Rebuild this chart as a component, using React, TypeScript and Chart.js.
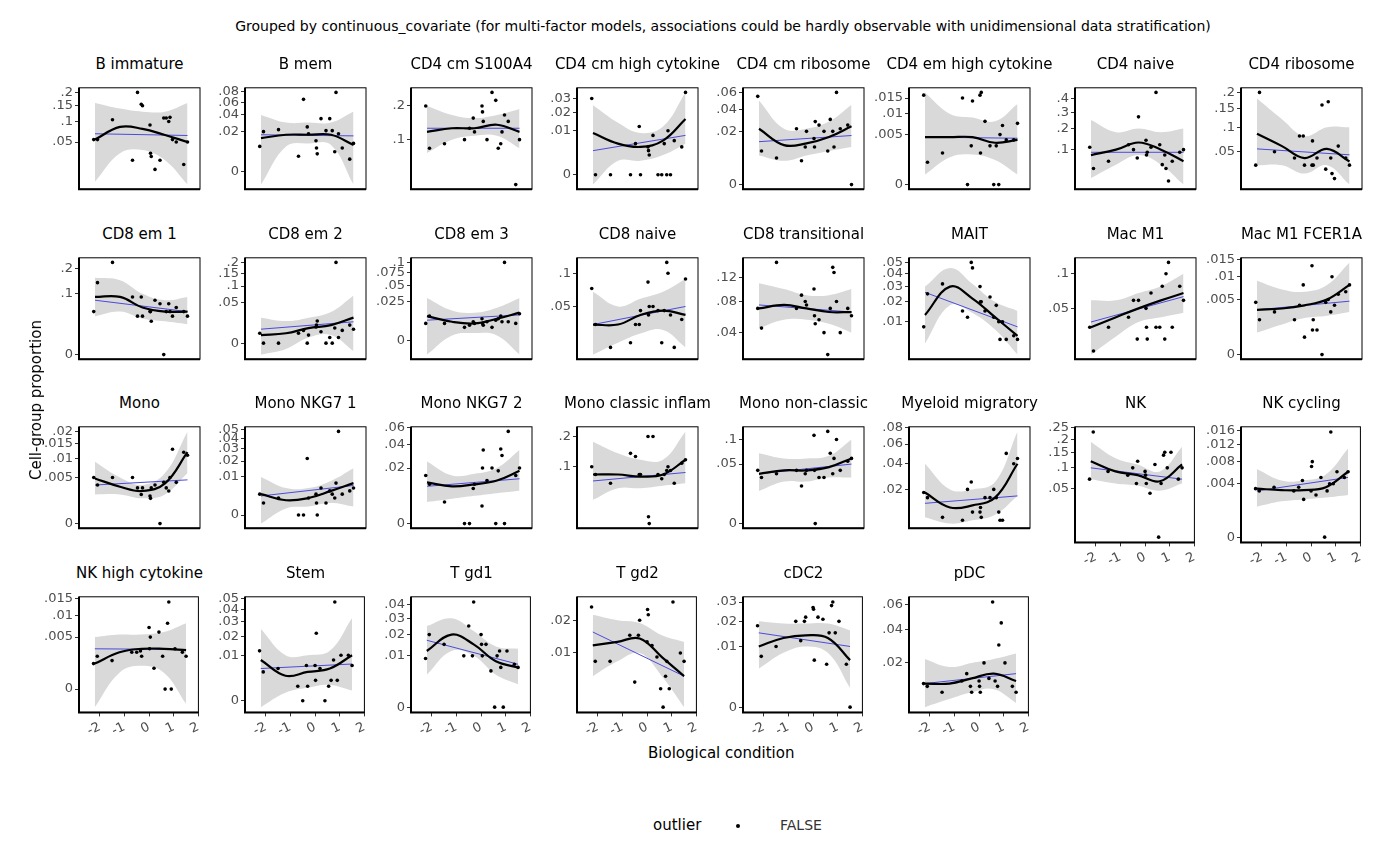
import React, { useEffect, useRef } from "react";
import { Chart, registerables } from "chart.js";
Chart.register(...registerables);

const xs = [-2.25,-2.1,-1.5,-0.7,-0.5,-0.35,-0.3,0,0.02,0.05,0.2,0.4,0.55,0.65,0.75,0.8,0.9,1.05,1.35,1.5];
const knots = [-2.2,-1.2,-0.3,0.6,1.5];
const xTicks = [-2,-1,0,1,2];

type P = { t: string; ticks: number[]; pts: number[]; sm: number[]; lo: number[]; hi: number[]; ln: number[] };
const panels: P[] = [
{t:"B immature",ticks:[.05,.1,.15,.2],pts:[0.055,0.055,0.105,0.02,0.2,0.155,0.15,0.09,0.03,0.025,0.01,0.02,0.11,0.11,0.1,0.112,0.055,0.05,0.015,0.05],sm:[0.055,0.085,0.08,0.065,0.05],lo:[0.002,0.03,0.035,0.02,0.001],hi:[0.16,0.14,0.13,0.13,0.16],ln:[0.068,0.064]},
{t:"B mem",ticks:[0,.02,.04,.06,.08],pts:[0.008,0.02,0.022,0.003,0.065,0.025,0.018,0.012,0.007,0.004,0.035,0.021,0.035,0.021,0.005,0.078,0.018,0.007,0.002,0.01],sm:[0.014,0.017,0.017,0.017,0.009],lo:[-0.002,0.008,0.01,0.009,-0.002],hi:[0.04,0.03,0.03,0.03,0.045],ln:[0.017,0.016]},
{t:"CD4 cm S100A4",ticks:[.1,.2],pts:[0.2,0.08,0.09,0.1,0.13,0.16,0.12,0.2,0.18,0.15,0.1,0.25,0.22,0.08,0.09,0.12,0.17,0.15,0.02,0.1],sm:[0.12,0.13,0.13,0.14,0.12],lo:[0.07,0.1,0.11,0.11,0.08],hi:[0.2,0.17,0.16,0.17,0.19],ln:[0.13,0.13]},
{t:"CD4 cm high cytokine",ticks:[0,.01,.02,.03,.04],pts:[0.03,0,0,0,0.005,0.012,0,0.004,0.003,0.002,0.008,0,0,0.005,0,0.01,0,0.006,0.004,0.035],sm:[0.009,0.005,0.004,0.006,0.016],lo:[-0.0005,0.001,0.001,0.002,0.005],hi:[0.025,0.014,0.009,0.012,0.035],ln:[0.003,0.008]},
{t:"CD4 cm ribosome",ticks:[0,.02,.04,.06],pts:[0.055,0.008,0.005,0.022,0.004,0.01,0.02,0.015,0.01,0.028,0.025,0.02,0.008,0.03,0.02,0.01,0.06,0.022,0.025,0],sm:[0.022,0.011,0.012,0.016,0.024],lo:[0.006,0.004,0.006,0.008,0.01],hi:[0.05,0.022,0.022,0.028,0.045],ln:[0.013,0.017]},
{t:"CD4 em high cytokine",ticks:[0,.005,.01,.015,.02],pts:[0.016,0.001,0.002,0.015,0,0.003,0.014,0.016,0.002,0.017,0.008,0.003,0,0.003,0,0.005,0.007,0.004,0.004,0.0075],sm:[0.0045,0.0045,0.0045,0.0035,0.004],lo:[0.0002,0.0015,0.0018,0.0012,0.0002],hi:[0.017,0.01,0.009,0.008,0.013],ln:[0.0045,0.0043]},
{t:"CD4 naive",ticks:[0,.1,.2,.3,.4,.5],pts:[0.11,0.04,0.06,0.12,0.1,0.07,0.27,0.14,0.08,0.09,0.11,0.45,0.12,0.05,0.08,0.04,0.015,0.06,0.09,0.1],sm:[0.08,0.1,0.13,0.1,0.06],lo:[0.02,0.05,0.08,0.05,0.01],hi:[0.25,0.18,0.2,0.18,0.2],ln:[0.09,0.09]},
{t:"CD4 ribosome",ticks:[0,.05,.1,.15,.2],pts:[0.03,0.2,0.05,0.04,0.08,0.08,0.03,0.03,0.07,0.03,0.04,0.16,0.025,0.17,0.04,0.02,0.015,0.06,0.04,0.03],sm:[0.085,0.06,0.04,0.055,0.035],lo:[0.03,0.03,0.02,0.03,0.01],hi:[0.18,0.12,0.08,0.1,0.1],ln:[0.055,0.045]},
{t:"CD8 em 1",ticks:[0,.1,.2],pts:[0.05,0.14,0.23,0.09,0.04,0.09,0.04,0.05,0.05,0.03,0.08,0.07,0,0.05,0.07,0.05,0.04,0.06,0.05,0.04],sm:[0.09,0.09,0.06,0.05,0.05],lo:[0.04,0.05,0.035,0.03,0.025],hi:[0.16,0.15,0.1,0.08,0.09],ln:[0.08,0.05]},
{t:"CD8 em 2",ticks:[0,.05,.1,.15,.2],pts:[0.003,0,0,0.003,0.005,0,0.002,0.008,0.01,0.015,0.004,0,0.001,0,0.007,0.2,0.001,0.005,0.01,0.006],sm:[0.002,0.003,0.007,0.01,0.02],lo:[-0.004,-0.001,0.001,0.002,-0.002],hi:[0.02,0.015,0.02,0.03,0.07],ln:[0.006,0.014]},
{t:"CD8 em 3",ticks:[0,.025,.05,.075,.1],pts:[0.005,0.01,0.005,0.003,0.004,0.006,0.005,0.008,0.005,0.004,0.006,0.003,0.007,0.008,0.01,0.006,0.1,0.006,0.005,0.012],sm:[0.01,0.006,0.005,0.008,0.013],lo:[-0.003,0.0005,0.001,0.0005,-0.003],hi:[0.03,0.015,0.013,0.018,0.03],ln:[0.007,0.011]},
{t:"CD8 naive",ticks:[.05,.1],pts:[0.075,0.03,0.012,0.015,0.03,0.03,0.045,0.085,0.04,0.05,0.05,0.045,0.015,0.045,0.12,0.1,0.04,0.012,0.035,0.09],sm:[0.03,0.03,0.04,0.045,0.04],lo:[0.008,0.015,0.022,0.025,0.012],hi:[0.07,0.05,0.06,0.07,0.09],ln:[0.03,0.05]},
{t:"CD8 transitional",ticks:[.04,.08,.12,.16],pts:[0.07,0.045,0.15,0.07,0.09,0.08,0.075,0.1,0.06,0.05,0.055,0.04,0.02,0.07,0.14,0.13,0.08,0.04,0.07,0.06],sm:[0.07,0.075,0.07,0.065,0.065],lo:[0.045,0.055,0.055,0.05,0.04],hi:[0.11,0.1,0.09,0.09,0.1],ln:[0.075,0.065]},
{t:"MAIT",ticks:[0,.01,.02,.03,.04,.05],pts:[0.008,0.025,0.032,0.015,0.012,0.05,0.045,0.03,0.02,0.02,0.015,0.023,0.012,0.018,0.01,0.004,0.01,0.004,0.005,0.004],sm:[0.013,0.03,0.022,0.012,0.005],lo:[0.003,0.018,0.014,0.007,0.001],hi:[0.03,0.045,0.032,0.02,0.015],ln:[0.026,0.008]},
{t:"Mac M1",ticks:[.05,.1],pts:[0.03,0.012,0.03,0.04,0.06,0.02,0.06,0.05,0.03,0.02,0.07,0.03,0.03,0.08,0.02,0.1,0.12,0.03,0.08,0.06],sm:[0.03,0.04,0.05,0.06,0.07],lo:[0.01,0.022,0.035,0.04,0.045],hi:[0.06,0.06,0.07,0.08,0.1],ln:[0.035,0.065]},
{t:"Mac M1 FCER1A",ticks:[0,.005,.01,.015,.02],pts:[0.0045,0.002,0.003,0.002,0.004,0.008,0.0005,0.013,0.001,0.002,0.001,0,0.0045,0.005,0.003,0.01,0.004,0.006,0.0065,0.008],sm:[0.0033,0.0035,0.004,0.005,0.008],lo:[0.0008,0.0015,0.0022,0.0025,0.003],hi:[0.009,0.007,0.0065,0.008,0.014],ln:[0.0033,0.0047]},
{t:"Mono",ticks:[0,.005,.01,.015,.02],pts:[0.005,0.0035,0.005,0.005,0.003,0.002,0.003,0.0018,0.0015,0.003,0.0035,0,0.004,0.003,0.0025,0.005,0.013,0.004,0.012,0.011],sm:[0.0048,0.0032,0.0025,0.0038,0.012],lo:[0.002,0.002,0.0015,0.002,0.006],hi:[0.009,0.005,0.0035,0.006,0.02],ln:[0.0035,0.0045]},
{t:"Mono NKG7 1",ticks:[0,.01,.02,.03,.04,.05],pts:[0.003,0.001,0.002,0,0,0.022,0.002,0.003,0.001,0,0.005,0.001,0.004,0.003,0.002,0.007,0.048,0.003,0.004,0.005],sm:[0.003,0.0015,0.002,0.004,0.007],lo:[-0.0005,0.0003,0.0005,0.001,0.0005],hi:[0.01,0.005,0.005,0.008,0.015],ln:[0.0025,0.006]},
{t:"Mono NKG7 2",ticks:[0,.02,.04,.06],pts:[0.015,0.01,0.003,0,0,0.008,0.01,0.002,0.02,0.035,0.012,0.02,0,0.018,0.036,0.03,0,0.055,0.015,0.02],sm:[0.011,0.009,0.01,0.012,0.018],lo:[0.003,0.004,0.005,0.006,0.007],hi:[0.025,0.015,0.016,0.02,0.035],ln:[0.009,0.013]},
{t:"Mono classic inflam",ticks:[0,.1,.2,.3],pts:[0.1,0.08,0.06,0.14,0.13,0.08,0.08,0.2,0.01,0.005,0.2,0.08,0.07,0.08,0.09,0.1,0.09,0.06,0.11,0.12],sm:[0.08,0.08,0.075,0.08,0.12],lo:[0.03,0.05,0.05,0.055,0.06],hi:[0.18,0.14,0.12,0.12,0.22],ln:[0.065,0.085]},
{t:"Mono non-classic",ticks:[0,.05,.1,.15],pts:[0.04,0.03,0.035,0.04,0.02,0.035,0.04,0.11,0.04,0,0.03,0.03,0.12,0.07,0.035,0.06,0.1,0.04,0.055,0.06],sm:[0.035,0.04,0.04,0.045,0.06],lo:[0.015,0.025,0.025,0.03,0.03],hi:[0.07,0.06,0.06,0.065,0.1],ln:[0.035,0.05]},
{t:"Myeloid migratory",ticks:[0,.02,.04,.06,.08],pts:[0.018,0.015,0.006,0.005,0.02,0.025,0.008,0.008,0.01,0.006,0.015,0.015,0.02,0.015,0.008,0.005,0.005,0.05,0.04,0.045],sm:[0.018,0.01,0.011,0.015,0.04],lo:[0.006,0.004,0.005,0.007,0.016],hi:[0.04,0.02,0.02,0.025,0.075],ln:[0.012,0.016]},
{t:"NK",ticks:[.05,.1,.15,.2,.25],pts:[0.07,0.23,0.09,0.08,0.1,0.06,0.12,0.09,0.08,0.06,0.04,0.11,0,0.06,0.14,0.15,0.1,0.15,0.07,0.1],sm:[0.12,0.09,0.08,0.065,0.11],lo:[0.07,0.06,0.055,0.045,0.06],hi:[0.19,0.13,0.11,0.09,0.17],ln:[0.1,0.07]},
{t:"NK cycling",ticks:[0,.004,.008,.012,.016],pts:[0.0033,0.003,0.0035,0.003,0.0035,0.0045,0.002,0.003,0.007,0.008,0.0025,0.005,0,0.003,0.004,0.0155,0.004,0.006,0.005,0.006],sm:[0.0033,0.0031,0.0031,0.0035,0.006],lo:[0.0013,0.0018,0.002,0.0022,0.0025],hi:[0.0065,0.0045,0.0045,0.0055,0.011],ln:[0.003,0.005]},
{t:"NK high cytokine",ticks:[0,.005,.01,.015],pts:[0.0012,0.002,0.0015,0.0025,0.0025,0.0027,0.002,0.007,0.003,0.005,0.0008,0.006,0.002,0,0.008,0.014,0,0.003,0.0025,0.002],sm:[0.0012,0.0025,0.003,0.003,0.0028],lo:[-0.0006,0.0005,0.001,0.0005,-0.0004],hi:[0.005,0.0055,0.0055,0.006,0.008],ln:[0.003,0.0029]},
{t:"Stem",ticks:[0,.01,.02,.03,.04,.05],pts:[0.012,0.004,0.005,0.001,0,0.006,0.001,0.006,0.002,0.022,0.005,0,0.001,0.002,0.008,0.047,0.002,0.01,0.01,0.006],sm:[0.008,0.003,0.004,0.005,0.01],lo:[-0.0002,0.0003,0.0008,0.0012,0.0005],hi:[0.025,0.01,0.01,0.012,0.033],ln:[0.005,0.0065]},
{t:"T gd1",ticks:[0,.01,.02,.03,.04],pts:[0.009,0.02,0.015,0.01,0.025,0.01,0.042,0.02,0.015,0.01,0.015,0.005,0,0.01,0.012,0.006,0,0.012,0.007,0.006],sm:[0.012,0.02,0.015,0.008,0.006],lo:[0.004,0.012,0.01,0.004,0.002],hi:[0.025,0.03,0.022,0.014,0.013],ln:[0.017,0.007]},
{t:"T gd2",ticks:[0,.01,.02,.03],pts:[0.025,0.008,0.008,0.015,0.004,0.015,0.02,0.013,0.024,0.022,0.012,0.009,0.003,0.001,0.005,0.008,0.003,0.027,0.01,0.008],sm:[0.012,0.013,0.014,0.009,0.005],lo:[0.005,0.008,0.01,0.005,0.001],hi:[0.022,0.02,0.019,0.015,0.013],ln:[0.016,0.005]},
{t:"cDC2",ticks:[0,.01,.02,.03],pts:[0.018,0.007,0.01,0.02,0.012,0.02,0.022,0.027,0.026,0.006,0.022,0.021,0.005,0.015,0.028,0.03,0.015,0.02,0.005,0],sm:[0.01,0.013,0.014,0.013,0.006],lo:[0.004,0.008,0.01,0.008,0.001],hi:[0.02,0.019,0.019,0.019,0.016],ln:[0.015,0.01]},
{t:"pDC",ticks:[0,.02,.04,.06],pts:[0.011,0.01,0.008,0.012,0.015,0.01,0.008,0.012,0.01,0.008,0.02,0.013,0.062,0.012,0.01,0.03,0.045,0.02,0.01,0.008],sm:[0.011,0.011,0.013,0.015,0.012],lo:[0.004,0.006,0.008,0.009,0.005],hi:[0.022,0.018,0.02,0.022,0.025],ln:[0.011,0.015]},
];

const tr = (v: number) => Math.sign(v) * Math.sqrt(Math.abs(v));
const fmt = (v: number) => (v === 0 ? "0" : String(v).replace(/^0/, ""));
const FONT = "DejaVu Sans";

const frame = {
  id: "frame",
  afterDraw(c: any) {
    const a = c.chartArea, g = c.ctx;
    g.save();
    g.strokeStyle = "#000";
    g.lineWidth = 1;
    g.strokeRect(a.left, a.top, a.right - a.left, a.bottom - a.top);
    g.lineWidth = 2;
    g.beginPath();
    g.moveTo(a.left, a.top); g.lineTo(a.left, a.bottom); g.lineTo(a.right, a.bottom);
    g.stroke();
    g.restore();
  },
};

const YW = 46, PW = 121, PH = 115, RP = 8;

function Panel({ p, showX }: { p: P; showX: boolean }) {
  const ref = useRef<HTMLCanvasElement>(null);
  useEffect(() => {
    const all = [...p.pts, ...p.hi].map(tr), lows = [...p.pts, ...p.lo].map(tr);
    const mx = Math.max(...all), mn = Math.min(...lows);
    const pad = (mx - mn) * 0.05;
    const lo = mn - pad, hi = mx + pad;
    const ch = new Chart(ref.current!, {
      type: "scatter",
      data: {
        datasets: [
          { type: "line", order: 4, data: knots.map((x, i) => ({ x, y: tr(p.lo[i]) })), borderWidth: 0, pointRadius: 0, tension: 0.4, fill: false },
          { type: "line", order: 3, data: knots.map((x, i) => ({ x, y: tr(p.hi[i]) })), borderWidth: 0, pointRadius: 0, tension: 0.4, fill: "-1", backgroundColor: "#d9d9d9" },
          { type: "line", order: 2, data: [{ x: knots[0], y: tr(p.ln[0]) }, { x: knots[4], y: tr(p.ln[1]) }], borderColor: "#4b4bdc", borderWidth: 1, pointRadius: 0 },
          { type: "line", order: 1, data: knots.map((x, i) => ({ x, y: tr(p.sm[i]) })), borderColor: "#000", borderWidth: 2.2, pointRadius: 0, tension: 0.4 },
          { order: 0, data: xs.map((x, i) => ({ x, y: tr(p.pts[i]) })), backgroundColor: "#000", pointRadius: 1.8, borderWidth: 0 },
        ],
      } as any,
      options: {
        animation: false, responsive: false, maintainAspectRatio: false,
        layout: { padding: { top: 6, right: RP, bottom: 0, left: 0 } },
        plugins: { legend: { display: false }, tooltip: { enabled: false } },
        scales: {
          x: {
            type: "linear", min: -2.84, max: 2.0, display: showX ? true : false,
            afterBuildTicks: (s: any) => { s.ticks = xTicks.map((value) => ({ value })); },
            grid: { drawOnChartArea: false, tickLength: 4, color: "#333" },
            border: { display: false },
            ticks: { color: "#4d4d4d", font: { family: FONT, size: 13 }, minRotation: 25, maxRotation: 25, callback: (v: any) => String(v) },
          },
          y: {
            type: "linear", min: lo, max: hi,
            afterFit: (s: any) => { s.width = YW; },
            afterBuildTicks: (s: any) => { s.ticks = p.ticks.filter((v) => tr(v) >= lo && tr(v) <= hi).map((v) => ({ value: tr(v) })); },
            grid: { drawOnChartArea: false, tickLength: 4, color: "#333" },
            border: { display: false },
            ticks: { color: "#4d4d4d", font: { family: FONT, size: 13 }, padding: 2, callback: (v: any) => { const t = p.ticks.find((k) => Math.abs(tr(k) - v) < 1e-9); return t === undefined ? "" : fmt(t); } },
          },
        },
      } as any,
      plugins: [frame],
    });
    return () => ch.destroy();
  }, [p, showX]);
  return <canvas ref={ref} width={YW + PW + RP} height={PH + 6 + (showX ? 34 : 0)} style={{ display: "block" }} />;
}

export default function App() {
  return (
    <div style={{ position: "relative", width: 1384, height: 850, fontFamily: FONT, color: "#000" }}>
      <div style={{ position: "absolute", left: 0, top: 10, width: 1430, textAlign: "center", fontSize: 14 }}>
        Grouped by continuous_covariate (for multi-factor models, associations could be hardly observable with unidimensional data stratification)
      </div>
      {panels.map((p, k) => {
        const r = Math.floor(k / 8), c = k % 8;
        const showX = r === 3 || (r === 2 && c >= 6);
        const left = 71 + 166 * c - YW;
        const top = 76 + 169.7 * r - 6;
        return (
          <div key={p.t} style={{ position: "absolute", left, top: top - 24 }}>
            <div style={{ marginLeft: YW - 40, width: PW + 80, textAlign: "center", fontSize: 15, height: 24, lineHeight: "20px", whiteSpace: "nowrap" }}>{p.t}</div>
            <Panel p={p} showX={showX} />
          </div>
        );
      })}
      <div style={{ position: "absolute", left: 14, top: 392, transform: "translate(-50%,-50%) rotate(-90deg)", fontSize: 15, whiteSpace: "nowrap", marginLeft: 14 }}>Cell-group proportion</div>
      <div style={{ position: "absolute", left: 640, top: 736, fontSize: 15 }}>Biological condition</div>
      <div style={{ position: "absolute", left: 645, top: 808, fontSize: 15 }}>outlier</div>
      <div style={{ position: "absolute", left: 728, top: 816, width: 4, height: 4, borderRadius: 2, background: "#000" }} />
      <div style={{ position: "absolute", left: 772, top: 809, fontSize: 14, color: "#333" }}>FALSE</div>
    </div>
  );
}
